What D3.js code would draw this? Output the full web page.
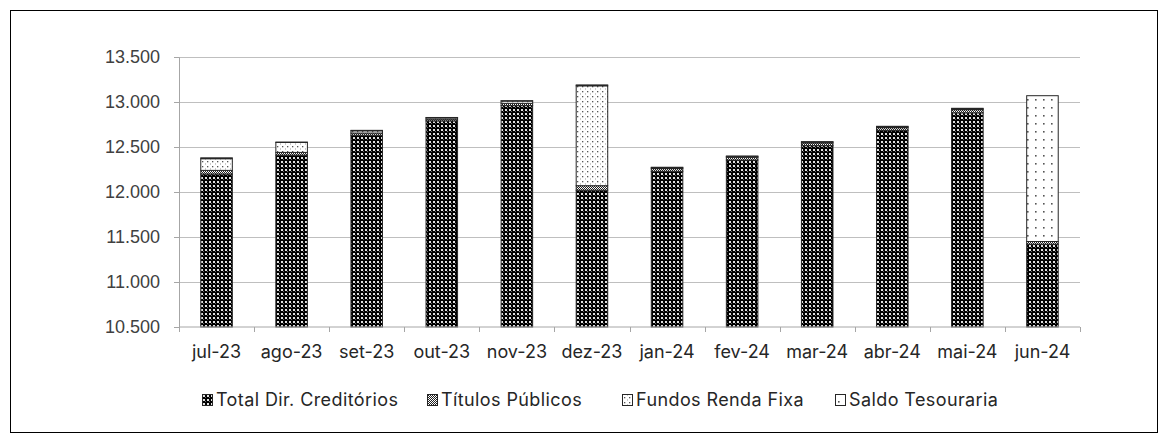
<!DOCTYPE html>
<html>
<head>
<meta charset="utf-8">
<script src="https://cdn.jsdelivr.net/npm/d3@7"></script>
<style>
  body { margin: 0; background: #fff; }
  svg { display: block; }
</style>
</head>
<body>
<svg id="chart"></svg>
<script>
// values
var categories = ["jul-23", "ago-23", "set-23", "out-23", "nov-23", "dez-23",
  "jan-24", "fev-24", "mar-24", "abr-24", "mai-24", "jun-24"];
var seriesNames = ["Total Dir. Creditórios", "Títulos Públicos", "Fundos Renda Fixa", "Saldo Tesouraria"];
var totalDirCreditorios = [12200, 12410, 12630, 12790, 12960, 12020, 12230, 12355, 12515, 12685, 12880, 11420];
var titulosPublicos = [40, 30, 25, 20, 25, 50, 30, 30, 30, 30, 35, 30];
var fundosRendaFixa = [130, 110, 25, 15, 25, 1110, 10, 10, 10, 10, 10, 0];
var saldoTesouraria = [10, 5, 5, 3, 5, 10, 5, 5, 5, 5, 5, 1620];
var yTicks = [10500, 11000, 11500, 12000, 12500, 13000, 13500];

var width = 1168, height = 443;
var margin = { top: 57, right: 88, bottom: 116, left: 179 };

var svg = d3.select("#chart").attr("width", width).attr("height", height);

// fill patterns
var defs = svg.append("defs");
function addPattern(id, size, draw) {
  var p = defs.append("pattern").attr("id", id)
    .attr("patternUnits", "userSpaceOnUse")
    .attr("width", size).attr("height", size);
  draw(p);
}
addPattern("pTDC", 4, function (p) {
  p.append("rect").attr("width", 4).attr("height", 4).attr("fill", "#000");
  p.append("rect").attr("x", 1).attr("y", 1).attr("width", 2).attr("height", 2).attr("fill", "#e0e0e0");
  p.append("rect").attr("x", 3).attr("y", 3).attr("width", 1).attr("height", 1).attr("fill", "#666");
});
addPattern("pTP", 2, function (p) {
  p.append("rect").attr("width", 2).attr("height", 2).attr("fill", "#fff");
  p.append("rect").attr("width", 1).attr("height", 1).attr("fill", "#222");
  p.append("rect").attr("x", 1).attr("y", 1).attr("width", 1).attr("height", 1).attr("fill", "#222");
});
addPattern("pFRF", 5, function (p) {
  p.append("rect").attr("width", 5).attr("height", 5).attr("fill", "#fff");
  p.append("rect").attr("x", 2).attr("y", 1).attr("width", 1.3).attr("height", 1.3).attr("fill", "#555");
  p.append("rect").attr("x", 0).attr("y", 3.5).attr("width", 1).attr("height", 1).attr("fill", "#999");
});
addPattern("pST", 8, function (p) {
  p.append("rect").attr("width", 8).attr("height", 8).attr("fill", "#fff");
  p.append("rect").attr("x", 3).attr("y", 3).attr("width", 1.6).attr("height", 1.6).attr("fill", "#555");
});
var fills = ["url(#pTDC)", "url(#pTP)", "url(#pFRF)", "url(#pST)"];

// frame
svg.append("rect")
  .attr("x", 10.5).attr("y", 10.5)
  .attr("width", width - 21).attr("height", height - 21)
  .attr("fill", "none").attr("stroke", "#000").attr("stroke-width", 1);

var x = d3.scaleBand()
  .domain(categories)
  .range([margin.left, width - margin.right])
  .paddingInner(0.58).paddingOuter(0.29);

var y = d3.scaleLinear()
  .domain([10500, 13500])
  .range([height - margin.bottom, margin.top]);

// gridlines
svg.append("g")
  .selectAll("line")
  .data(yTicks.slice(1))
  .enter().append("line")
  .attr("x1", margin.left).attr("x2", width - margin.right)
  .attr("y1", function (d) { return Math.round(y(d)) + 0.5; })
  .attr("y2", function (d) { return Math.round(y(d)) + 0.5; })
  .attr("stroke", "#bfbfbf").attr("stroke-width", 1);

// y axis
var yAxis = svg.append("g")
  .attr("transform", "translate(" + margin.left + ",0)")
  .call(d3.axisLeft(y).tickValues(yTicks).tickSize(5)
    .tickFormat(function (d) { return d3.format(",")(d).replace(",", "."); }));
yAxis.select(".domain").attr("stroke", "#a6a6a6");
yAxis.selectAll(".tick line").attr("stroke", "#a6a6a6");
yAxis.selectAll("text")
  .attr("x", -19)
  .attr("fill", "#404040")
  .style("font-family", "'Liberation Sans', Arial, sans-serif")
  .style("font-size", "18px");

// stacked bars
var rows = categories.map(function (c, i) {
  return { cat: c, s0: totalDirCreditorios[i], s1: titulosPublicos[i], s2: fundosRendaFixa[i], s3: saldoTesouraria[i] };
});
var stack = d3.stack().keys(["s0", "s1", "s2", "s3"]);
var layers = stack(rows);

svg.append("g")
  .selectAll("g")
  .data(layers)
  .enter().append("g")
  .attr("fill", function (d, i) { return fills[i]; })
  .selectAll("rect")
  .data(function (d) { return d; })
  .enter().append("rect")
  .attr("x", function (d) { return x(d.data.cat); })
  .attr("y", function (d) { return y(d[1]); })
  .attr("width", x.bandwidth())
  .attr("height", function (d) { return Math.max(0, y(Math.max(d[0], 10500)) - y(d[1])); })
  .attr("stroke", "#262626")
  .attr("stroke-width", function (d) { return d[1] - d[0] > 0 ? 1 : 0; });

// x axis
var xAxisY = y(10500);
var xg = svg.append("g").attr("transform", "translate(0," + xAxisY + ")");
xg.append("line")
  .attr("x1", margin.left).attr("x2", width - margin.right)
  .attr("stroke", "#a6a6a6");
xg.selectAll(".bt")
  .data(d3.range(categories.length + 1))
  .enter().append("line")
  .attr("class", "bt")
  .attr("x1", function (i) { return Math.round(margin.left + i * (width - margin.left - margin.right) / categories.length) + 0.5; })
  .attr("x2", function (i) { return Math.round(margin.left + i * (width - margin.left - margin.right) / categories.length) + 0.5; })
  .attr("y1", 0).attr("y2", 5)
  .attr("stroke", "#a6a6a6");
xg.selectAll("text")
  .data(categories)
  .enter().append("text")
  .attr("x", function (d) { return x(d) + x.bandwidth() / 2; })
  .attr("y", 31)
  .attr("text-anchor", "middle")
  .attr("fill", "#262626")
  .style("font-family", "Inter, 'Open Sans', sans-serif")
  .style("font-size", "18px")
  .text(function (d) { return d; });

// legend
var legendX = [202, 427, 622, 835];
var legend = svg.append("g").attr("transform", "translate(0,406)");
var li = legend.selectAll("g")
  .data(seriesNames)
  .enter().append("g")
  .attr("transform", function (d, i) { return "translate(" + legendX[i] + ",0)"; });
li.append("rect")
  .attr("x", 0.5).attr("y", -11.5)
  .attr("width", 10).attr("height", 11)
  .attr("fill", function (d, i) { return fills[i]; })
  .attr("stroke", "#262626").attr("stroke-width", 1);
li.append("text")
  .attr("x", 14).attr("y", 0)
  .attr("fill", "#262626")
  .style("font-family", "Inter, 'Open Sans', sans-serif")
  .style("font-size", "18px")
  .style("letter-spacing", "0.4px")
  .text(function (d) { return d; });
</script>
</body>
</html>
